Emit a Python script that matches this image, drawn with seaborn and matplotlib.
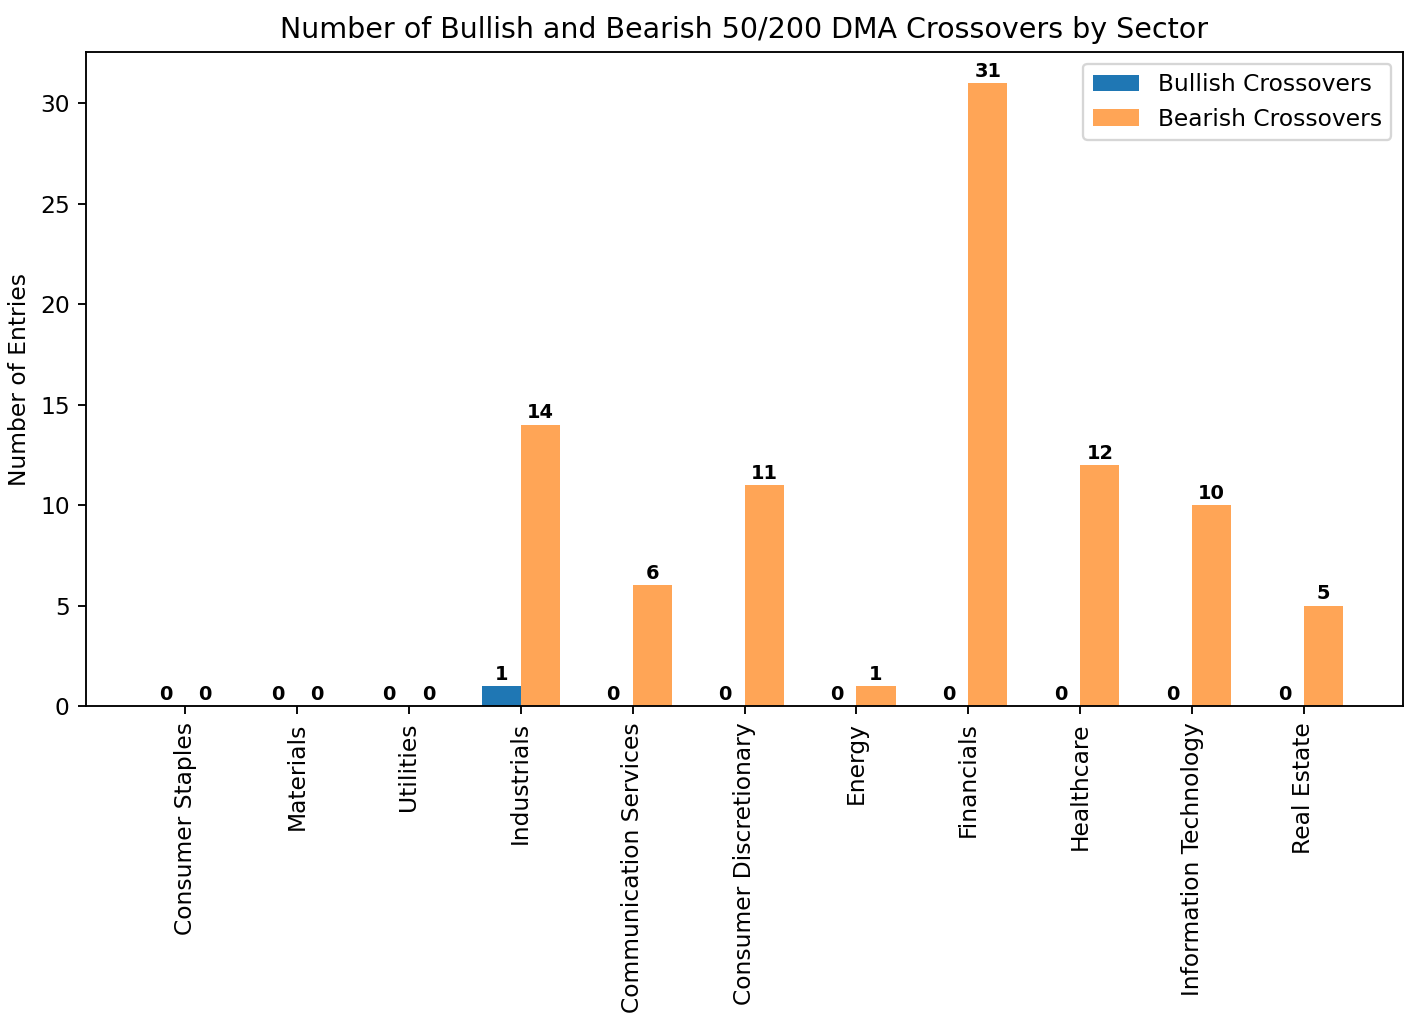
import pandas as pd
import matplotlib
matplotlib.use("Agg")
import matplotlib.pyplot as plt
import seaborn as sns

sectors = [
    "Consumer Staples", "Materials", "Utilities", "Industrials",
    "Communication Services", "Consumer Discretionary", "Energy",
    "Financials", "Healthcare", "Information Technology", "Real Estate",
]
bullish = [0, 0, 0, 1, 0, 0, 0, 0, 0, 0, 0]
bearish = [0, 0, 0, 14, 6, 11, 1, 31, 12, 10, 5]

df = pd.DataFrame({
    "Sector": sectors * 2,
    "Count": bullish + bearish,
    "Type": ["Bullish Crossovers"] * len(sectors) + ["Bearish Crossovers"] * len(sectors),
})

DPI = 168
fig = plt.figure(figsize=(1410 / DPI, 1020 / DPI), dpi=DPI)
ax = fig.add_axes([86 / 1410, 1 - 706 / 1020, (1403 - 86) / 1410, (706 - 52) / 1020])

sns.barplot(data=df, x="Sector", y="Count", hue="Type", order=sectors,
            palette=["#1f77b4", "#ffa556"], width=0.7, saturation=1,
            errorbar=None, ax=ax)

for cont in ax.containers:
    ax.bar_label(cont, fmt="%d", padding=1, fontsize=8.3, fontweight="bold")

ax.set_xlim(-0.885, len(sectors) - 1 + 0.885)
ax.set_title("Number of Bullish and Bearish 50/200 DMA Crossovers by Sector", fontsize=12.2)
ax.set_xlabel("")
ax.set_ylabel("Number of Entries")
plt.setp(ax.get_xticklabels(), rotation=90)
ax.legend(title=None, loc="upper right")

fig.savefig("out.png", dpi=DPI)
